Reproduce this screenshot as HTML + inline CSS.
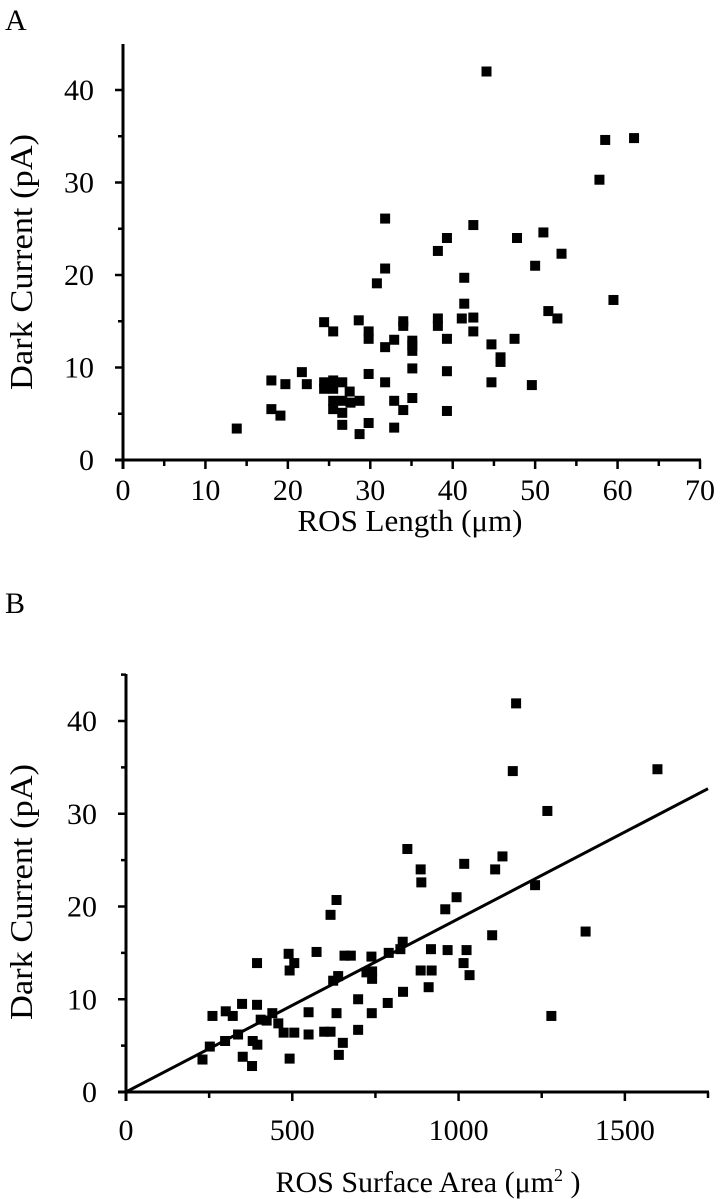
<!DOCTYPE html>
<html><head><meta charset="utf-8"><style>
html,body{margin:0;padding:0;background:#fff;}
svg{display:block;font-family:"Liberation Serif",serif;}
</style></head><body>
<svg id="fig" width="724" height="1199" viewBox="0 0 724 1199">
<text x="5" y="30" font-size="30">A</text>
<text x="5" y="613" font-size="30">B</text>
<text transform="translate(32,262) rotate(-90)" text-anchor="middle" font-size="32" textLength="256" lengthAdjust="spacingAndGlyphs">Dark Current (pA)</text>
<text transform="translate(32,892) rotate(-90)" text-anchor="middle" font-size="32" textLength="256" lengthAdjust="spacingAndGlyphs">Dark Current (pA)</text>
<text x="410" y="531" text-anchor="middle" font-size="31">ROS Length (μm)</text>
<text x="428" y="1192" text-anchor="middle" font-size="30">ROS Surface Area (μm<tspan dy="-11" font-size="18">2</tspan><tspan dy="11"> )</tspan></text>
<g id="ga"></g>
<g id="gb"></g>
</svg>
<script>
const aX=[13.8,18.0,19.7,18.0,19.1,21.7,22.3,24.4,25.5,24.4,24.4,25.5,25.5,25.0,26.6,27.5,25.5,25.5,26.6,26.6,27.6,28.7,26.6,28.7,29.8,28.6,29.8,29.8,29.8,30.8,31.8,31.8,31.8,31.8,32.9,32.9,32.9,34.0,34.0,34.0,35.1,35.1,35.1,35.1,35.1,38.2,38.2,38.2,39.3,39.3,39.3,39.3,41.1,41.4,41.4,42.5,42.5,42.5,44.1,44.7,44.7,45.8,45.8,47.5,47.8,49.6,50.0,51.0,51.6,52.7,53.2,57.8,58.5,59.5,62.0];
const aY=[3.4,8.6,8.2,5.5,4.8,9.5,8.2,14.9,13.9,8.4,7.7,8.6,7.7,8.0,8.4,7.4,6.4,5.5,6.4,5.1,6.2,6.4,3.8,2.8,4.0,15.1,13.9,13.1,9.3,19.1,26.1,20.7,12.2,8.4,13.0,6.4,3.5,15.0,14.5,5.4,12.9,12.4,11.8,9.9,6.7,22.6,15.3,14.5,24.0,13.1,9.6,5.3,15.3,19.7,16.9,25.4,15.4,13.9,42.0,12.5,8.4,11.1,10.6,13.1,24.0,8.1,21.0,24.6,16.1,15.3,22.3,30.3,34.6,17.3,34.8];
const bX=[230,252,260,298,300,321,337,349,351,379,381,395,394,394,405,423,440,458,474,489,506,492,492,506,549,549,573,596,615,615,633,623,638,633,640,652,657,676,698,698,723,738,740,740,739,787,790,825,832,833,846,886,888,886,910,917,919,960,967,994,1015,1017,1024,1033,1101,1110,1132,1163,1173,1230,1267,1279,1382,1598];
const bY=[3.5,4.9,8.2,5.5,8.7,8.2,6.2,9.5,3.8,2.8,5.5,5.1,13.9,9.4,7.8,7.7,8.5,7.4,6.4,14.9,13.9,13.1,3.6,6.4,8.6,6.2,15.1,6.5,6.5,19.1,20.7,12.0,12.5,8.5,4.0,5.3,14.7,14.7,10.0,6.7,12.9,14.6,13.0,12.2,8.5,9.6,15.0,15.4,16.2,10.8,26.2,24.0,22.6,13.1,11.3,15.4,13.1,19.7,15.3,21.0,13.9,24.6,15.3,12.6,16.9,24.0,25.4,34.6,41.9,22.3,30.3,8.2,17.3,34.8];
const aXTicks=[0,10,20,30,40,50,60,70];
const bXTicks=[0,500,1000,1500];
const yTicks=[0,10,20,30,40];
const fitLine=[0,1750,0,32.7];
const NS="http://www.w3.org/2000/svg";
function mk(p,t,at){const e=document.createElementNS(NS,t);for(const k in at)e.setAttribute(k,at[k]);p.appendChild(e);return e;}
function panel(g,cfg){
  const sx=v=>cfg.x0+(v-cfg.xmin)*(cfg.x1-cfg.x0)/(cfg.xmax-cfg.xmin);
  const sy=v=>cfg.y0-v*(cfg.y0-cfg.y40)/40;
  let e=mk(g,'line',{x1:cfg.x0,y1:cfg.top,x2:cfg.x0,y2:cfg.y0+9,stroke:'#000','stroke-width':3});
  
  e=mk(g,'line',{x1:cfg.x0-8,y1:cfg.y0,x2:cfg.x1+1,y2:cfg.y0,stroke:'#000','stroke-width':3});
  
  for(let v=5;v<=45;v+=5){const y=sy(v);if(y<cfg.top)break;
    e=mk(g,'line',{x1:cfg.x0-(v%10?5:8),y1:y,x2:cfg.x0,y2:y,stroke:'#000','stroke-width':2.5});
    }
  yTicks.forEach(v=>{e=mk(g,'text',{x:cfg.x0-29,y:sy(v)+10,'text-anchor':'end','font-size':30});e.textContent=v;
    });
  const xs=cfg.xticks,step=(xs[1]-xs[0])/2;
  for(let v=cfg.xmin;v<=cfg.xmax+1e-6;v+=step){const x=sx(v);
    e=mk(g,'line',{x1:x,y1:cfg.y0,x2:x,y2:cfg.y0+(Math.round(v/step)%2?6:9),stroke:'#000','stroke-width':2.5});
    }
  xs.forEach(v=>{e=mk(g,'text',{x:sx(v),y:cfg.y0+cfg.lblOff,'text-anchor':'middle','font-size':30});e.textContent=v;
    });
  if(cfg.line){e=mk(g,'line',{x1:sx(fitLine[0]),y1:sy(fitLine[2]),x2:sx(fitLine[1]),y2:sy(fitLine[3]),stroke:'#000','stroke-width':3});
    }
  cfg.X.forEach((v,i)=>{e=mk(g,'rect',{x:sx(v)-5,y:sy(cfg.Y[i])-5,width:10,height:10,fill:'#000'});
    });
}
panel(document.getElementById('ga'),{x0:123,x1:700,xmin:0,xmax:70,y0:460,y40:90,top:44,xticks:aXTicks,X:aX,Y:aY,lblOff:40,line:false});
panel(document.getElementById('gb'),{x0:126,x1:708,xmin:0,xmax:1750,y0:1092,y40:721,top:674,xticks:bXTicks,X:bX,Y:bY,lblOff:48,line:true});
</script>
</body></html>
